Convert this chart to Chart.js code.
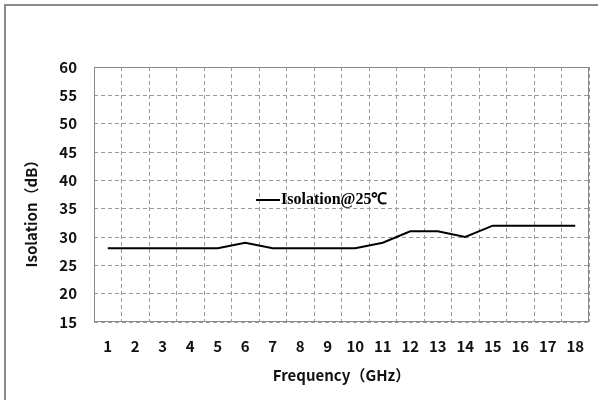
<!DOCTYPE html>
<html>
<head>
<meta charset="utf-8">
<script src="https://cdn.jsdelivr.net/npm/chart.js@4"></script>
<style>
  html, body { margin: 0; padding: 0; background: #fff; }
  #wrap { width: 598px; height: 400px; }
</style>
</head>
<body>
<div id="wrap"><canvas id="myChart" width="598" height="400"></canvas></div>
<script>
var freqs = ['1','2','3','4','5','6','7','8','9','10','11','12','13','14','15','16','17','18'];
var isolation = [28,28,28,28,28,29,28,28,28,28,29,31,31,30,32,32,32,32];
var seriesName = 'Isolation@25℃';
var xTitle = 'Frequency（GHz）';
var yTitle = 'Isolation（dB）';

var sansBold = '"Noto Sans CJK SC", "Noto Sans", sans-serif';

// frame, solid plot border, axis titles and the inline legend
var decor = {
  id: 'decor',
  beforeDraw: function (chart) {
    var c = chart.ctx;
    c.save();
    c.fillStyle = '#fff';
    c.fillRect(0, 0, chart.width, chart.height);
    c.strokeStyle = '#8a8a8a';
    c.lineWidth = 2;
    c.strokeRect(5, 5, chart.width + 20, chart.height + 20);
    c.restore();
  },
  beforeDatasetsDraw: function (chart) {
    var c = chart.ctx, a = chart.chartArea;
    c.save();
    c.strokeStyle = '#8a8a8a';
    c.lineWidth = 1;
    c.strokeRect(Math.round(a.left) + 0.5, Math.round(a.top) + 0.5,
      Math.round(a.right - a.left) - 1, Math.round(a.bottom - a.top) - 1);
    c.restore();
  },
  afterDraw: function (chart) {
    var c = chart.ctx, a = chart.chartArea;
    c.save();
    c.fillStyle = '#111';
    c.font = 'bold 15px ' + sansBold;
    c.textAlign = 'center';
    c.textBaseline = 'middle';
    c.fillText(xTitle, (a.left + a.right) / 2, 375);
    c.translate(31, 210);
    c.rotate(-Math.PI / 2);
    c.fillText(yTitle, 0, 0);
    c.restore();

    // legend
    c.save();
    c.strokeStyle = '#000';
    c.lineWidth = 2;
    c.beginPath();
    c.moveTo(256, 200);
    c.lineTo(280, 200);
    c.stroke();
    c.fillStyle = '#000';
    c.font = 'bold 16px "Liberation Serif", serif';
    c.textBaseline = 'middle';
    c.fillText(seriesName, 281, 200);
    c.restore();
  }
};

var tickFont = { family: sansBold, size: 15, weight: 'bold' };

var ctx = document.getElementById('myChart').getContext('2d');
var myChart = new Chart(ctx, {
  type: 'line',
  data: {
    labels: freqs,
    datasets: [{
      label: seriesName,
      data: isolation,
      borderColor: '#000',
      borderWidth: 2,
      pointRadius: 0,
      tension: 0,
      fill: false
    }]
  },
  options: {
    responsive: false,
    animation: false,
    layout: { padding: { top: 67, right: 9, left: 0, bottom: 0 } },
    plugins: {
      legend: { display: false },
      tooltip: { enabled: false }
    },
    scales: {
      x: {
        offset: true,
        grid: { offset: true, color: '#9a9a9a', drawTicks: false },
        border: { display: false, dash: [4, 3] },
        ticks: {
          color: '#111',
          padding: 15,
          maxRotation: 0,
          autoSkip: false,
          font: tickFont
        },
        afterFit: function (s) {
          s.height = 78;
          s.paddingLeft = 0;
          s.paddingRight = 0;
        }
      },
      y: {
        min: 15,
        max: 60,
        grid: { color: '#9a9a9a', drawTicks: false },
        border: { display: false, dash: [4, 3] },
        ticks: {
          stepSize: 5,
          color: '#111',
          padding: 17,
          font: tickFont
        },
        afterFit: function (s) {
          s.width = 94;
          s.paddingTop = 0;
          s.paddingBottom = 0;
        }
      }
    }
  },
  plugins: [decor]
});
</script>
</body>
</html>
